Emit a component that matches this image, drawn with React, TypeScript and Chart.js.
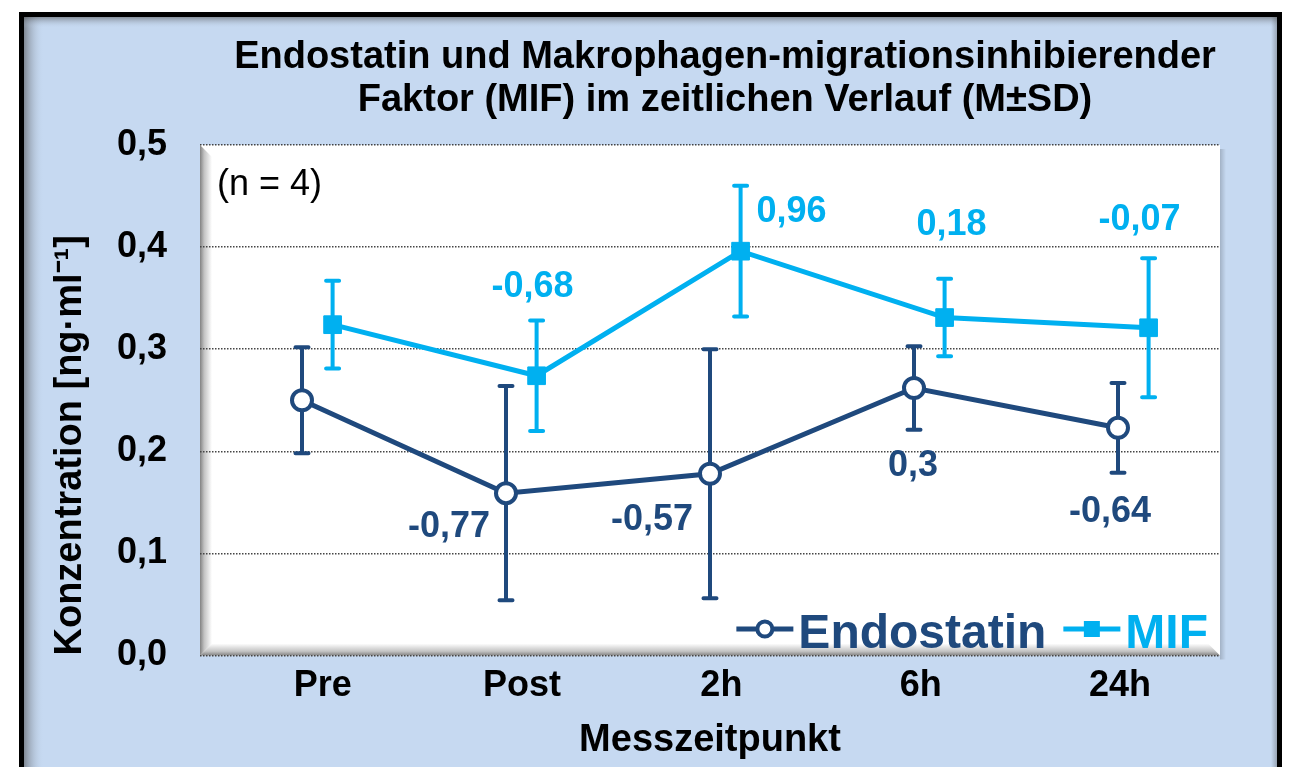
import React, { useEffect, useRef } from 'react';
import { Chart, registerables } from 'chart.js';

Chart.register(...registerables);

// ---------- data ----------
const CATEGORIES = ['Pre', 'Post', '2h', '6h', '24h'];
const ENDO_X = [0, 1, 2, 3, 4];
const MIF_X = [0.15, 1.15, 2.15, 3.15, 4.15];
const ENDO_MEAN = [0.25, 0.159, 0.178, 0.262, 0.223];
const ENDO_SD = [0.052, 0.105, 0.122, 0.041, 0.044];
const MIF_MEAN = [0.324, 0.274, 0.396, 0.331, 0.321];
const MIF_SD = [0.043, 0.054, 0.064, 0.038, 0.068];
const ENDO_LABELS = ['', '-0,77', '-0,57', '0,3', '-0,64'];
const MIF_LABELS = ['', '-0,68', '0,96', '0,18', '-0,07'];
const Y_TICKS = [0, 0.1, 0.2, 0.3, 0.4, 0.5];
const TITLE_LINES = [
  'Endostatin und Makrophagen-migrationsinhibierender',
  'Faktor (MIF) im zeitlichen Verlauf (M±SD)',
];
const NOTE_TEXT = '(n = 4)';
const Y_TITLE = 'Konzentration [ng·ml⁻¹]';
const X_TITLE = 'Messzeitpunkt';

// ---------- styles ----------
const FONT = "'Liberation Sans', Arial, Helvetica, sans-serif";
const ENDO_COLOR = '#1f497d';
const MIF_COLOR = '#00b0f0';
const PANEL_BLUE = '#c6d9f1';
const TITLE_CENTER_X = 725;
const TITLE_BASELINES = [68, 111];
const ENDO_LABEL_OFFSETS = [[0, 0], [-57, 34], [-58, 46], [-1, 78], [-8, 84]];
const MIF_LABEL_OFFSETS = [[0, 0], [-4, -89], [51, -39], [7, -92], [-9, -108]];

const framePlugin = {
  id: 'frame',
  beforeDraw(chart: any) {
    const { ctx, chartArea: ca, width, height } = chart;
    ctx.save();
    ctx.fillStyle = '#ffffff';
    ctx.fillRect(0, 0, width, height);
    // blue panel
    ctx.fillStyle = PANEL_BLUE;
    ctx.fillRect(21.5, 14.5, 1258, 800);
    // inner shadows of panel
    let g = ctx.createLinearGradient(24, 0, 44, 0);
    g.addColorStop(0, 'rgba(70,70,70,0.55)');
    g.addColorStop(1, 'rgba(198,217,241,0)');
    ctx.fillStyle = g;
    ctx.fillRect(24, 17, 20, 800);
    g = ctx.createLinearGradient(0, 17, 0, 28);
    g.addColorStop(0, 'rgba(70,70,70,0.5)');
    g.addColorStop(1, 'rgba(198,217,241,0)');
    ctx.fillStyle = g;
    ctx.fillRect(24, 17, 1253, 11);
    g = ctx.createLinearGradient(1271, 0, 1277, 0);
    g.addColorStop(0, 'rgba(70,70,70,0)');
    g.addColorStop(1, 'rgba(70,70,70,0.35)');
    ctx.fillStyle = g;
    ctx.fillRect(1271, 17, 6, 800);
    // black border
    ctx.strokeStyle = '#000';
    ctx.lineWidth = 5;
    ctx.strokeRect(21.5, 14.5, 1258, 800);

    // plot area
    const L = ca.left, R = ca.right, T = ca.top, B = ca.bottom;
    // outer shadow on right
    g = ctx.createLinearGradient(R, 0, R + 6, 0);
    g.addColorStop(0, 'rgba(0,0,0,0.18)');
    g.addColorStop(1, 'rgba(0,0,0,0)');
    ctx.fillStyle = g;
    ctx.fillRect(R, T + 4, 6, B - T);
    ctx.fillStyle = '#ffffff';
    ctx.fillRect(L, T, R - L, B - T);
    const bev = 12;
    // left bevel
    g = ctx.createLinearGradient(L, 0, L + bev, 0);
    g.addColorStop(0, 'rgb(130,130,130)');
    g.addColorStop(0.35, 'rgb(195,195,195)');
    g.addColorStop(1, 'rgb(255,255,255)');
    ctx.fillStyle = g;
    ctx.beginPath();
    ctx.moveTo(L, T);
    ctx.lineTo(L + bev, T + bev);
    ctx.lineTo(L + bev, B - bev);
    ctx.lineTo(L, B);
    ctx.closePath();
    ctx.fill();
    // bottom bevel
    g = ctx.createLinearGradient(0, B - bev, 0, B);
    g.addColorStop(0, 'rgb(255,255,255)');
    g.addColorStop(0.65, 'rgb(195,195,195)');
    g.addColorStop(1, 'rgb(130,130,130)');
    ctx.fillStyle = g;
    ctx.beginPath();
    ctx.moveTo(L, B);
    ctx.lineTo(L + bev, B - bev);
    ctx.lineTo(R - bev, B - bev);
    ctx.lineTo(R, B);
    ctx.closePath();
    ctx.fill();
    ctx.restore();
  },
};

const SERIES = [
  { xs: ENDO_X, mean: ENDO_MEAN, sd: ENDO_SD, color: ENDO_COLOR },
  { xs: MIF_X, mean: MIF_MEAN, sd: MIF_SD, color: MIF_COLOR },
];

const errorBarPlugin = {
  id: 'errorBars',
  beforeDatasetsDraw(chart: any) {
    const { ctx } = chart;
    const xs = chart.scales.x;
    const ys = chart.scales.y;
    ctx.save();
    ctx.lineWidth = 4;
    ctx.lineCap = 'round';
    SERIES.forEach((s) => {
      ctx.strokeStyle = s.color;
      s.xs.forEach((xv, i) => {
        const px = xs.getPixelForValue(xv);
        const top = ys.getPixelForValue(s.mean[i] + s.sd[i]);
        const bot = ys.getPixelForValue(s.mean[i] - s.sd[i]);
        ctx.beginPath();
        ctx.moveTo(px, top);
        ctx.lineTo(px, bot);
        ctx.moveTo(px - 6.5, top);
        ctx.lineTo(px + 6.5, top);
        ctx.moveTo(px - 6.5, bot);
        ctx.lineTo(px + 6.5, bot);
        ctx.stroke();
      });
    });
    ctx.restore();
  },
};

const labelPlugin = {
  id: 'valueLabels',
  afterDatasetsDraw(chart: any) {
    const { ctx } = chart;
    ctx.save();
    ctx.font = `bold 36px ${FONT}`;
    ctx.textAlign = 'center';
    ctx.textBaseline = 'middle';
    const sets = [
      { labels: ENDO_LABELS, offs: ENDO_LABEL_OFFSETS, color: ENDO_COLOR, idx: 0 },
      { labels: MIF_LABELS, offs: MIF_LABEL_OFFSETS, color: MIF_COLOR, idx: 1 },
    ];
    sets.forEach((s) => {
      const meta = chart.getDatasetMeta(s.idx);
      ctx.fillStyle = s.color;
      s.labels.forEach((t, i) => {
        if (!t) return;
        const el = meta.data[i];
        ctx.fillText(t, el.x + s.offs[i][0], el.y + s.offs[i][1]);
      });
    });
    ctx.restore();
  },
};

const decorPlugin = {
  id: 'decor',
  afterDraw(chart: any) {
    const { ctx, chartArea: ca } = chart;
    ctx.save();
    // title
    ctx.fillStyle = '#000';
    ctx.font = `bold 38px ${FONT}`;
    ctx.textAlign = 'center';
    ctx.textBaseline = 'alphabetic';
    TITLE_LINES.forEach((t, i) => ctx.fillText(t, TITLE_CENTER_X, TITLE_BASELINES[i]));
    // note
    ctx.font = `36px ${FONT}`;
    ctx.textAlign = 'left';
    ctx.fillText(NOTE_TEXT, ca.left + 17, ca.top + 50);
    // legend (inside plot, bottom right)
    ctx.font = `bold 48px ${FONT}`;
    const baseline = ca.bottom - 8;
    const lineY = ca.bottom - 26.5;
    let xRight = ca.right - 12;
    const dss = chart.data.datasets;
    for (let k = dss.length - 1; k >= 0; k--) {
      const ds = dss[k];
      const w = ctx.measureText(ds.label).width;
      const tx = xRight - w;
      ctx.fillStyle = ds.borderColor;
      ctx.fillText(ds.label, tx, baseline);
      const lineEnd = tx - 5;
      const lineStart = lineEnd - 57;
      ctx.strokeStyle = ds.borderColor;
      ctx.lineWidth = 5;
      ctx.beginPath();
      ctx.moveTo(lineStart, lineY);
      ctx.lineTo(lineEnd, lineY);
      ctx.stroke();
      const cx = (lineStart + lineEnd) / 2;
      if (ds.pointStyle === 'circle') {
        ctx.beginPath();
        ctx.arc(cx, lineY, 7.5, 0, Math.PI * 2);
        ctx.fillStyle = '#fff';
        ctx.fill();
        ctx.lineWidth = 4;
        ctx.stroke();
      } else {
        ctx.fillStyle = ds.borderColor;
        ctx.fillRect(cx - 8, lineY - 8, 16, 16);
      }
      xRight = lineStart - 17;
    }
    ctx.restore();
  },
};

export default function App() {
  const ref = useRef<HTMLCanvasElement>(null);
  useEffect(() => {
    const canvas = ref.current;
    if (!canvas) return;
    const tickFont = { family: FONT, size: 36, weight: 'bold' as const };
    const titleFont = { family: FONT, size: 38, weight: 'bold' as const };
    const chart = new Chart(canvas, {
      type: 'line',
      data: {
        datasets: [
          {
            label: 'Endostatin',
            data: ENDO_X.map((x, i) => ({ x, y: ENDO_MEAN[i] })),
            borderColor: ENDO_COLOR,
            backgroundColor: '#ffffff',
            borderWidth: 5,
            pointStyle: 'circle',
            pointRadius: 10,
            pointBorderWidth: 4,
            pointBackgroundColor: '#ffffff',
            pointBorderColor: ENDO_COLOR,
            tension: 0,
            xAxisID: 'x',
            yAxisID: 'y',
          },
          {
            label: 'MIF',
            data: MIF_X.map((x, i) => ({ x, y: MIF_MEAN[i] })),
            borderColor: MIF_COLOR,
            backgroundColor: MIF_COLOR,
            borderWidth: 5,
            pointStyle: 'rect',
            pointRadius: 12.5,
            pointBorderWidth: 1,
            pointBackgroundColor: MIF_COLOR,
            pointBorderColor: MIF_COLOR,
            tension: 0,
            xAxisID: 'x',
            yAxisID: 'y',
          },
        ],
      },
      options: {
        responsive: false,
        animation: false,
        events: [],
        layout: { padding: { left: 20, right: 72, top: 145, bottom: 0 } },
        plugins: {
          legend: { display: false },
          title: { display: false },
          tooltip: { enabled: false },
        },
        scales: {
          x: { type: 'linear', min: -0.5, max: 4.5, display: false },
          xl: {
            type: 'linear',
            position: 'bottom',
            min: -0.616,
            max: 4.502,
            afterBuildTicks: (s: any) => {
              s.ticks = CATEGORIES.map((_, i) => ({ value: i }));
            },
            afterFit: (s: any) => {
              s.height = 111.5;
            },
            grid: { display: false, drawTicks: false },
            border: { display: false },
            ticks: {
              autoSkip: false,
              maxRotation: 0,
              padding: 9,
              color: '#000',
              font: tickFont,
              callback: (_v: any, i: number) => CATEGORIES[i],
            },
            title: {
              display: true,
              text: X_TITLE,
              color: '#000',
              font: titleFont,
              padding: { top: 0, bottom: 4 },
            },
          },
          y: {
            type: 'linear',
            min: 0,
            max: 0.5,
            afterBuildTicks: (s: any) => {
              s.ticks = Y_TICKS.map((v) => ({ value: v }));
            },
            afterFit: (s: any) => {
              s.width = 180;
            },
            grid: { color: '#454545', lineWidth: 1.5, drawTicks: false },
            border: { display: false, dash: [1.5, 1.5] },
            ticks: {
              padding: 33,
              color: '#000',
              font: tickFont,
              callback: (v: any) => Number(v).toFixed(1).replace('.', ','),
            },
            title: {
              display: true,
              text: Y_TITLE,
              align: 'start',
              color: '#000',
              font: titleFont,
              padding: { top: 28, bottom: 0 },
            },
          },
        },
      } as any,
      plugins: [framePlugin, errorBarPlugin, labelPlugin, decorPlugin],
    });
    return () => chart.destroy();
  }, []);
  return (
    <canvas
      ref={ref}
      width={1292}
      height={767}
      style={{ position: 'fixed', left: 0, top: 0, width: 1292, height: 767 }}
    />
  );
}
